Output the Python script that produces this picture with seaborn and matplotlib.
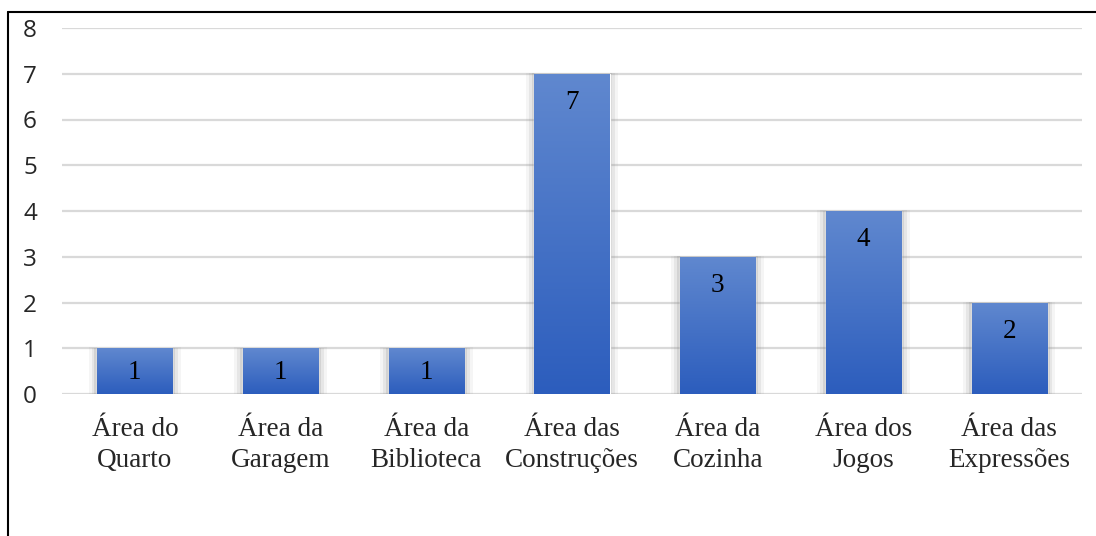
import matplotlib
matplotlib.use('Agg')
import matplotlib.pyplot as plt
import seaborn as sns
import numpy as np
import pandas as pd
from matplotlib.patches import Rectangle
from matplotlib.lines import Line2D

# Chart data
categorias = ['Área do\nQuarto', 'Área da\nGaragem', 'Área da\nBiblioteca', 'Área das\nConstruções',
              'Área da\nCozinha', 'Área dos\nJogos', 'Área das\nExpressões']
valores = [1, 1, 1, 7, 3, 4, 2]
y_ticks = [0, 1, 2, 3, 4, 5, 6, 7, 8]

TOP_BLUE = '#6088cf'
BOTTOM_BLUE = '#2c5dbd'
GRID_GRAY = '#d9d9d9'

sns.set_style('white')
plt.rcParams['font.family'] = ['Liberation Serif', 'DejaVu Serif']

df = pd.DataFrame({'area': categorias, 'n': valores})

fig = plt.figure(figsize=(10.96, 5.36), dpi=100)
ax = fig.add_axes([62 / 1096, 1 - 394 / 536, 1020 / 1096, 366 / 536])

sns.barplot(data=df, x='area', y='n', color=BOTTOM_BLUE, width=0.515, ax=ax, zorder=3)

ax.set_xlim(-0.5, 6.5)
ax.set_ylim(0, 8)
ax.set_yticks(y_ticks)
ax.set_yticklabels([str(t) for t in y_ticks], fontfamily='Open Sans', fontsize=17.5)
ax.tick_params(axis='y', length=0, pad=18)
ax.tick_params(axis='x', length=0, pad=16.5, labelsize=19.5)
for lbl in ax.get_xticklabels():
    lbl.set_linespacing(1.32)
ax.set_xlabel('')
ax.set_ylabel('')
for s in ax.spines.values():
    s.set_visible(False)
ax.yaxis.grid(True, color=GRID_GRAY, linewidth=1.6, zorder=0)
ax.set_axisbelow(True)

# gradient fill and soft shadow for each bar
grad = np.linspace(0, 1, 256).reshape(-1, 1)
cmap = matplotlib.colors.LinearSegmentedColormap.from_list('bar', [BOTTOM_BLUE, TOP_BLUE])
for bar in ax.patches:
    x0, w, h = bar.get_x(), bar.get_width(), bar.get_height()
    for k, a in zip([0.06, 0.04, 0.02], [0.08, 0.12, 0.18]):
        ax.add_patch(Rectangle((x0 - k, 0), w + 2 * k, h + k * 0.35, color='#808080',
                               alpha=a, lw=0, zorder=2))
    im = ax.imshow(grad, extent=[x0, x0 + w, 0, h], origin='lower', cmap=cmap,
                   aspect='auto', zorder=4)
    im.set_clip_path(bar)
    ax.text(x0 + w / 2, max(h - 0.63, h / 2 - 0.04), str(int(h)), ha='center', va='center',
            fontsize=19.5, color='black', zorder=5)

ax.set_xlim(-0.5, 6.5)
ax.set_ylim(0, 8)

# frame of the chart area (left and top edges visible)
fig.add_artist(Line2D([8 / 1096, 8 / 1096], [0, 1 - 12 / 536], color='black', lw=1.5,
                      transform=fig.transFigure))
fig.add_artist(Line2D([8 / 1096, 1], [1 - 12 / 536, 1 - 12 / 536], color='black', lw=1.5,
                      transform=fig.transFigure))

fig.savefig('out.png', dpi=100)
